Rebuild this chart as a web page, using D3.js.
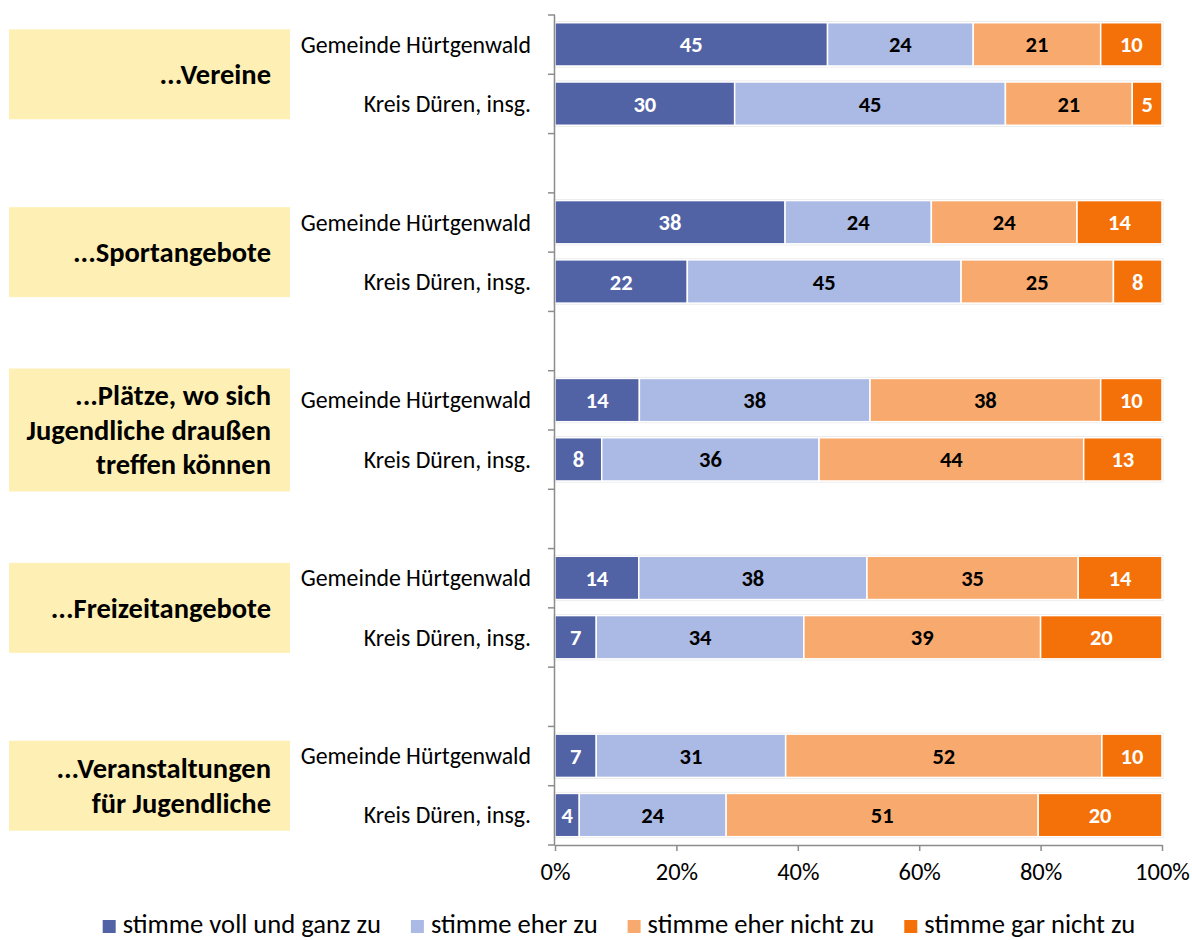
<!DOCTYPE html>
<html>
<head>
<meta charset="utf-8">
<script src="https://cdn.jsdelivr.net/npm/d3@7"></script>
<style>
body { margin: 0; background: #fff; }
svg { display: block; font-family: Carlito, Calibri, Lato, sans-serif; }
</style>
</head>
<body>
<div id="main"></div>
<script>
// data
var categories = [
	["...Vereine"],
	["...Sportangebote"],
	["...Plätze, wo sich", "Jugendliche draußen", "treffen können"],
	["...Freizeitangebote"],
	["...Veranstaltungen", "für Jugendliche"]
];
var regions = ["Gemeinde Hürtgenwald", "Kreis Düren, insg."];
var seriesNames = ["stimme voll und ganz zu", "stimme eher zu", "stimme eher nicht zu", "stimme gar nicht zu"];
// one value per bar, bars in order: category 1 Gemeinde, category 1 Kreis, category 2 Gemeinde ...
var vollUndGanz = [44.9, 29.6, 37.9, 21.8, 13.9, 7.7, 13.8, 6.8, 6.8, 4.0];
var eherZu      = [24.0, 44.6, 24.1, 45.1, 38.0, 35.8, 37.6, 34.2, 31.2, 24.2];
var eherNicht   = [21.0, 20.9, 24.0, 25.1, 38.0, 43.6, 34.8, 39.0, 52.1, 51.4];
var garNicht    = [10.1, 4.9, 14.0, 8.0, 10.1, 12.9, 13.8, 20.0, 9.9, 20.4];
var xTicks = [0, 20, 40, 60, 80, 100];

var colors = ["#5263a5", "#abbae4", "#f8aa6e", "#f47109"];
var labelColors = ["#ffffff", "#000000", "#000000", "#ffffff"];

var width = 1192, height = 940;
var margin = {top: 15, right: 30, bottom: 95, left: 555};

var svg = d3.select("#main")
	.append("svg")
	.attr("width", width)
	.attr("height", height);

// table for the stack
var table = vollUndGanz.map(function(v, i) {
	return {key: "r" + i, cat: Math.floor(i / 2), region: regions[i % 2],
		s0: v, s1: eherZu[i], s2: eherNicht[i], s3: garNicht[i]};
});

// slots: two bars per category plus an empty slot between categories
var slots = [];
categories.forEach(function(c, i) {
	slots.push("r" + (2 * i), "r" + (2 * i + 1));
	if (i < categories.length - 1) slots.push("gap" + i);
});

var x = d3.scaleLinear()
	.domain([0, 100])
	.range([margin.left, width - margin.right]);

var y = d3.scaleBand()
	.domain(slots)
	.range([margin.top, height - margin.bottom]);

var barTop = y.step() * 0.13;
var barH = y.step() * 0.73;

var stack = d3.stack().keys(["s0", "s1", "s2", "s3"]);
var series = stack(table);

// faint outline behind each bar
svg.append("g")
	.selectAll("rect")
	.data(table)
	.join("rect")
		.attr("x", x(0))
		.attr("y", d => y(d.key) + barTop)
		.attr("width", x(100) - x(0))
		.attr("height", barH)
		.attr("fill", "none")
		.attr("stroke", "#e8e8e8")
		.attr("stroke-width", 3);

//bars
svg.append("g")
	.selectAll("g")
	.data(series)
	.join("g")
		.attr("fill", (d, i) => colors[i])
	.selectAll("rect")
	.data(d => d)
	.join("rect")
		.attr("x", d => x(d[0]))
		.attr("y", d => y(d.data.key) + barTop)
		.attr("width", d => x(d[1]) - x(d[0]))
		.attr("height", barH)
		.attr("stroke", "#ffffff")
		.attr("stroke-width", 1.5);

//value labels
svg.append("g")
	.attr("font-size", 22.5)
	.attr("font-weight", "bold")
	.attr("text-anchor", "middle")
	.selectAll("g")
	.data(series)
	.join("g")
		.attr("fill", (d, i) => labelColors[i])
	.selectAll("text")
	.data(d => d)
	.join("text")
		.attr("x", d => (x(d[0]) + x(d[1])) / 2)
		.attr("y", d => y(d.data.key) + barTop + barH / 2)
		.attr("dy", "0.36em")
		.text(d => Math.round(d[1] - d[0]));

// y axis line with ticks between the slots
var yAxis = svg.append("g")
	.attr("stroke", "#8c8c8c")
	.attr("stroke-width", 1.5);
yAxis.append("line")
	.attr("x1", x(0) - 0.5).attr("x2", x(0) - 0.5)
	.attr("y1", y.range()[0]).attr("y2", y.range()[1]);
yAxis.selectAll("line.tick")
	.data(slots.map(s => y(s)).concat([y.range()[1]]))
	.join("line")
		.attr("class", "tick")
		.attr("x1", x(0) - 7).attr("x2", x(0))
		.attr("y1", d => d).attr("y2", d => d);

// region labels
svg.append("g")
	.attr("font-size", 23.8)
	.attr("text-anchor", "end")
	.attr("fill", "#000")
	.selectAll("text")
	.data(table)
	.join("text")
		.attr("x", x(0) - 24)
		.attr("y", d => y(d.key) + barTop + barH / 2)
		.attr("dy", "0.35em")
		.text(d => d.region);

// x axis
var xAxis = svg.append("g")
	.attr("transform", "translate(0," + y.range()[1] + ")")
	.call(d3.axisBottom(x)
		.tickValues(xTicks)
		.tickFormat(d => d + "%")
		.tickSize(6)
		.tickSizeOuter(0)
		.tickPadding(12));
xAxis.select(".domain").attr("stroke", "#8c8c8c").attr("stroke-width", 1.5);
xAxis.selectAll(".tick line").attr("stroke", "#8c8c8c").attr("stroke-width", 1.5);
xAxis.selectAll(".tick text")
	.attr("font-size", 24.5)
	.attr("font-family", "Carlito, Calibri, Lato, sans-serif")
	.attr("fill", "#000");

// category boxes
var catG = svg.append("g")
	.selectAll("g")
	.data(categories)
	.join("g")
		.attr("transform", (d, i) => "translate(0," + y("r" + (2 * i + 1)) + ")");
catG.append("rect")
	.attr("x", 9)
	.attr("width", 281)
	.attr("y", d => -(Math.max(2, d.length) * 33 + 24) / 2)
	.attr("height", d => Math.max(2, d.length) * 33 + 24)
	.attr("fill", "#fef0b4");
catG.append("text")
	.attr("font-size", 28.5)
	.attr("font-weight", "bold")
	.attr("text-anchor", "end")
	.selectAll("tspan")
	.data(d => d.map((t, j) => ({t: t, j: j, n: d.length})))
	.join("tspan")
		.attr("x", 271)
		.attr("y", d => (d.j - (d.n - 1) / 2) * 34.5)
		.attr("dy", "0.35em")
		.text(d => d.t);

// legend
var legend = svg.append("g")
	.attr("font-size", 26.6);
var lx = 0;
seriesNames.forEach(function(name, i) {
	var item = legend.append("g").attr("transform", "translate(" + lx + ",0)");
	item.append("rect")
		.attr("x", 0).attr("y", -13)
		.attr("width", 13).attr("height", 13)
		.attr("fill", colors[i]);
	var t = item.append("text")
		.attr("x", 20)
		.attr("y", 0)
		.text(name);
	lx += 20 + t.node().getComputedTextLength() + 30;
});
lx -= 30;
legend.attr("transform", "translate(" + ((100 + 1138) / 2 - lx / 2) + ",933)");
</script>
</body>
</html>
